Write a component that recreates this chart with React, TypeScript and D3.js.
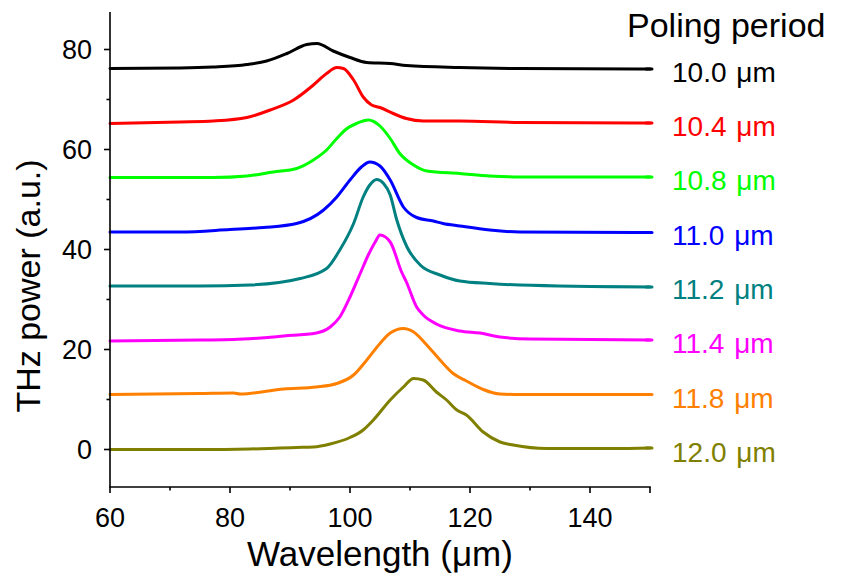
import React from "react";
import * as d3 from "d3";

const periods = ["10.0", "10.4", "10.8", "11.0", "11.2", "11.4", "11.8", "12.0"];
const colors = ["#000000", "#ff0000", "#00ff00", "#0000ff", "#008080", "#ff00ff", "#ff8000", "#808000"];

const s100: [number, number][] = [
  [60, 76.2], [71.7, 76.3], [77.2, 76.5], [82.8, 77.0], [86.1, 77.7], [89.5, 79.2], [92.8, 81.0],
  [94.5, 81.2], [97.2, 79.7], [100, 78.4], [102.8, 77.4], [106.7, 77.2], [109.4, 76.8],
  [118.3, 76.4], [128.3, 76.2], [150, 76.1],
];
const s104: [number, number][] = [
  [60, 65.2], [71.7, 65.5], [77.2, 65.7], [82.8, 66.4], [86.7, 67.9], [90.6, 69.9], [93.9, 72.9],
  [96.1, 75.2], [97.8, 76.4], [98.9, 76.2], [100.6, 73.9], [102.2, 70.5], [103.6, 68.9],
  [105, 68.4], [107.2, 67.2], [109.4, 66.2], [112.2, 65.7], [118.3, 65.7], [128.3, 65.4], [150, 65.3],
];
const s108: [number, number][] = [
  [60, 54.4], [71.7, 54.4], [77.2, 54.4], [82.8, 54.7], [87.2, 55.5], [91.1, 56.2], [93.9, 57.9],
  [96.1, 59.9], [97.8, 62.2], [99.5, 64.2], [101.1, 65.2], [103.05, 65.9], [105, 64.7],
  [106.7, 62.2], [108.3, 59.2], [110.6, 56.9], [112.8, 55.7], [118.3, 55.2], [123.3, 54.7],
  [128.3, 54.5], [150, 54.5],
];
const s110: [number, number][] = [
  [60, 43.5], [71.7, 43.5], [80, 44.0], [85.6, 44.4], [91.1, 45.2], [95.6, 47.9], [97.8, 50.5],
  [100, 53.9], [101.9, 56.5], [103.3, 57.5], [105, 56.7], [106.7, 53.9], [108.9, 48.5],
  [111.1, 46.4], [113.9, 45.7], [115.5, 45.2], [118.3, 44.7], [123.3, 43.9], [128.3, 43.5], [150, 43.4],
];
const s112: [number, number][] = [
  [60, 32.7], [75, 32.7], [83.3, 32.9], [91.7, 34.2], [96.1, 36.2], [98.3, 39.9], [100.6, 45.2],
  [102.2, 50.5], [103.3, 52.9], [104.45, 54.0], [105.6, 53.2], [106.7, 50.9], [107.8, 45.9],
  [109.5, 40.5], [111.7, 36.9], [115, 34.9], [118.3, 33.7], [123.3, 33.2], [128.3, 32.9], [150, 32.5],
];
const s114: [number, number][] = [
  [60, 21.7], [75, 21.9], [80.6, 22.0], [89, 22.7], [94.4, 23.3], [96.7, 24.5], [98.3, 26.5],
  [100, 30.5], [101.7, 35.2], [103.05, 38.9], [104.2, 41.5], [105, 42.9], [106.7, 41.5],
  [108.6, 35.5], [109.4, 33.5], [111.1, 28.5], [112.2, 26.9], [114.4, 25.1], [118.3, 23.7],
  [121.7, 23.3], [125, 22.5], [130, 22.1], [150, 21.9],
];
const s118: [number, number][] = [
  [60, 11.0], [75, 11.2], [80.6, 11.3], [81.7, 11.1], [89, 12.1], [94.4, 12.5], [97.8, 13.2],
  [100.6, 14.9], [102.8, 17.9], [105, 21.2], [106.7, 23.3], [108.9, 24.2], [110.6, 23.5],
  [112.8, 20.9], [115, 17.9], [117.2, 15.2], [119.4, 13.7], [122.2, 12.0], [125, 11.1],
  [128.3, 11.0], [150, 11.0],
];
const s120: [number, number][] = [
  [60, 0], [75, 0], [83.3, 0.1], [88.3, 0.3], [91.1, 0.4], [93.9, 0.5], [96.7, 1.1], [100, 2.4],
  [102.2, 3.9], [103.9, 5.9], [106.7, 9.9], [108.9, 12.5], [110.6, 14.2], [112.2, 13.9],
  [114.4, 11.5], [116.1, 9.9], [117.8, 7.9], [119.4, 6.9], [122.2, 3.5], [125, 1.5],
  [127.2, 0.9], [132.8, 0.2], [143.9, 0.2], [150, 0.3],
];
const seriesData = [s100, s104, s108, s110, s112, s114, s118, s120];

const xTicks = [60, 80, 100, 120, 140];
const xMinor = [70, 90, 110, 130, 150];
const yTicks = [0, 20, 40, 60, 80];
const yMinor = [10, 30, 50, 70];

const FONT = "Arial, 'Liberation Sans', Helvetica, sans-serif";

export default function App() {
  const W = 842, H = 578;
  const x = d3.scaleLinear().domain([60, 150]).range([110, 650]);
  const y = d3.scaleLinear().domain([-7.5, 87.5]).range([487, 12]);
  const line = d3.line<[number, number]>().x(d => x(d[0])).y(d => y(d[1])).curve(d3.curveMonotoneX);

  const legendTop = 68.3;
  const legendStep = 54.3;

  return (
    <svg width={W} height={H} style={{ position: "absolute", left: 0, top: 0, background: "#fff" }}
      fontFamily={FONT}>
      {seriesData.map((s, i) => (
        <path key={i} d={line(s) || ""} fill="none" stroke={colors[i]} strokeWidth={3}
          strokeLinejoin="round" strokeLinecap="round" />
      ))}
      {/* axes */}
      <line x1={110} x2={110} y1={12} y2={487} stroke="#000" strokeWidth={1.6} />
      <line x1={109.2} x2={650.8} y1={487} y2={487} stroke="#000" strokeWidth={1.6} />
      {yTicks.map(t => (
        <g key={"yt" + t}>
          <line x1={104} x2={110} y1={y(t)} y2={y(t)} stroke="#000" strokeWidth={1.6} />
          <text x={92} y={y(t)} dy="0.35em" textAnchor="end" fontSize={27}>{t}</text>
        </g>
      ))}
      {yMinor.map(t => (
        <line key={"ym" + t} x1={106.5} x2={110} y1={y(t)} y2={y(t)} stroke="#000" strokeWidth={1.6} />
      ))}
      {xTicks.map(t => (
        <g key={"xt" + t}>
          <line x1={x(t)} x2={x(t)} y1={487} y2={493} stroke="#000" strokeWidth={1.6} />
          <text x={x(t)} y={526.5} textAnchor="middle" fontSize={27}>{t}</text>
        </g>
      ))}
      {xMinor.map(t => (
        <line key={"xm" + t} x1={x(t)} x2={x(t)} y1={487} y2={t === 150 ? 493 : 490.5} stroke="#000" strokeWidth={1.6} />
      ))}
      <text x={380} y={566} textAnchor="middle" fontSize={35}>Wavelength (μm)</text>
      <text transform={`translate(40,286) rotate(-90)`} textAnchor="middle" fontSize={34}>THz power (a.u.)</text>
      {/* legend */}
      <text x={627} y={36.7} fontSize={34}>Poling period</text>
      {periods.map((p, i) => {
        const s = seriesData[i];
        const endY = y(s[s.length - 1][1]);
        const ly = legendTop + i * legendStep;
        return (
          <g key={"lg" + i}>
            <line x1={646} x2={652} y1={endY} y2={endY} stroke={colors[i]} strokeWidth={3} strokeLinecap="round" />
            <text x={672} y={ly + 13.4} fontSize={28} fill={colors[i]}>{`${p} `}<tspan dx={2}>μm</tspan></text>
          </g>
        );
      })}
    </svg>
  );
}
